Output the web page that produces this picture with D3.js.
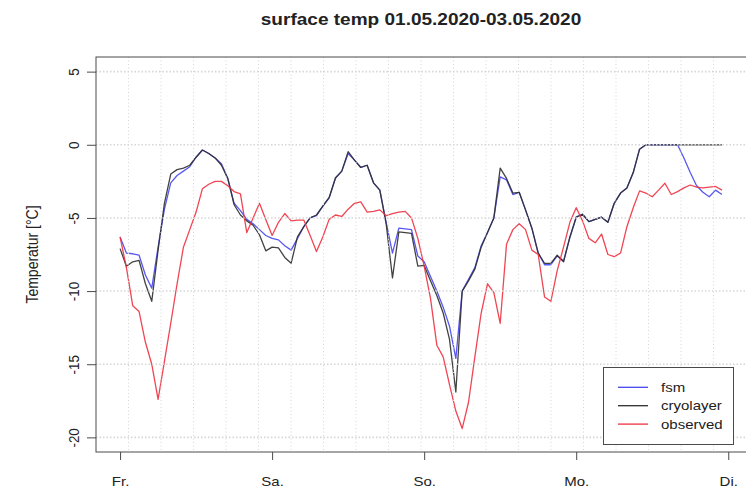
<!DOCTYPE html>
<html>
<head>
<meta charset="utf-8">
<script src="https://cdn.jsdelivr.net/npm/d3@7"></script>
<style>
  body { margin: 0; background: #fff; }
  text { font-family: "Liberation Sans", Arial, sans-serif; fill: #222; }
</style>
</head>
<body>
<svg id="chart" width="746" height="490"></svg>
<script>
// ---- data: hourly surface temperatures from Fri 01.05.2020 00:00 ----
const title = "surface temp 01.05.2020-03.05.2020";
const yLabel = "Temperatur [°C]";
const dayLabels = ["Fr.", "Sa.", "So.", "Mo.", "Di."];
const dayHours = [0, 24, 48, 72, 96];
const yTicks = [5, 0, -5, -10, -15, -20];
const seriesNames = ["fsm", "cryolayer", "observed"];
const seriesColors = ["#4646ee", "#2e2e2e", "#ee3140"];

const fsm = [
  -6.3, -7.4, -7.45, -7.55, -8.9, -9.8, -7.0, -4.4, -2.6, -2.1, -1.8, -1.5,
  -0.85, -0.36, -0.6, -0.9, -1.3, -2.3, -4.0, -4.5, -5.1, -5.4, -5.8, -6.2,
  -6.4, -6.5, -6.9, -7.2, -6.4, -5.6, -5.0, -4.85, -4.2, -3.65, -2.3, -1.8,
  -0.6, -1.05, -1.55, -1.4, -2.6, -3.1, -5.3, -7.4, -5.7, -5.75, -5.8, -7.6,
  -8.0, -9.0, -10.0, -11.1, -12.4, -14.6, -10.0, -9.2, -8.4, -6.9, -6.0, -5.0,
  -2.2, -2.4, -3.4, -3.25, -4.45, -5.7, -7.4, -8.2, -8.2, -7.6, -7.95, -6.35,
  -4.95, -4.75, -5.25, -5.1, -4.95, -5.3, -4.0, -3.3, -2.95, -1.9, -0.3, 0,
  0, 0, 0, 0, 0, -0.9, -1.9, -2.8, -3.25, -3.55, -3.1, -3.4
];

const cryolayer = [
  -7.1, -8.3, -8.0, -7.9, -9.5, -10.7, -7.2, -4.0, -2.0, -1.7, -1.6, -1.4,
  -0.85, -0.36, -0.6, -0.9, -1.4, -2.3, -4.1, -4.8, -5.2, -5.5, -6.15, -7.25,
  -7.0, -7.05, -7.7, -8.1, -6.3, -5.6, -5.0, -4.8, -4.2, -3.6, -2.25, -1.8,
  -0.47, -1.05, -1.55, -1.4, -2.6, -3.1, -5.4, -9.1, -5.95, -6.0, -6.05, -8.3,
  -8.25, -9.3, -10.3, -11.5, -13.3, -16.9, -10.0, -9.3, -8.5, -7.0, -6.0, -5.0,
  -1.6, -2.3, -3.3, -3.25, -4.45, -5.7, -7.4, -8.1, -8.1, -7.55, -8.0, -6.3,
  -4.95, -4.75, -5.25, -5.1, -4.95, -5.3, -4.0, -3.3, -2.95, -1.9, -0.3, 0,
  0, 0, 0, 0, 0, 0, 0, 0, 0, 0, 0, 0
];

const observed = [
  -6.3, -8.4, -11.0, -11.4, -13.5, -15.0, -17.4, -14.8, -12.2, -9.5, -7.0, -5.8,
  -4.6, -3.0, -2.7, -2.5, -2.5, -2.8, -3.2, -3.35, -6.0, -5.0, -4.0, -5.1,
  -6.2, -5.3, -4.7, -5.2, -5.15, -5.15, -6.2, -7.3, -6.3, -5.1, -4.8, -4.9,
  -4.4, -4.0, -3.9, -4.6, -4.55, -4.45, -4.85, -4.7, -4.6, -4.55, -5.0, -6.4,
  -8.3, -10.5, -13.7, -14.5, -16.4, -18.2, -19.4, -17.6, -14.5, -11.5, -9.5, -10.1,
  -12.2, -6.8, -5.8, -5.4, -5.8, -7.2, -7.5, -10.4, -10.7, -8.6, -7.0, -5.3,
  -4.3, -5.2, -6.4, -6.7, -6.1, -7.5, -7.65, -7.4, -5.6, -4.3, -3.15, -3.3,
  -3.55, -3.1, -2.63, -3.4, -3.2, -2.95, -2.75, -2.9, -2.95, -2.9, -2.85, -3.1
];

const series = [fsm, cryolayer, observed];

// ---- layout ----
const svg = d3.select("#chart");
const plot = { left: 96, right: 746, top: 57, bottom: 452 };
const sx = 1.12;            // horizontal text stretch of the output device
const fontSize = 13.4;

// x: hour index, padded 4% on each side like base graphics
const n = fsm.length;
const pad = 0.04 * (n - 1);
const x = d3.scaleLinear().domain([0 - pad, n - 1 + pad]).range([plot.left, plot.right]);
const y = d3.scaleLinear().domain([-21, 6]).range([plot.bottom, plot.top]);

// ---- series lines ----
const line = d3.line().x((d, i) => x(i)).y(d => y(d));
series.forEach((s, k) => {
  svg.append("path")
    .datum(s)
    .attr("fill", "none")
    .attr("stroke", seriesColors[k])
    .attr("stroke-width", 1.3)
    .attr("stroke-linejoin", "round")
    .attr("opacity", 0.9)
    .attr("d", line);
});

// ---- dotted grid drawn over the lines ----
const grid = svg.append("g")
  .attr("stroke", "#d6d6d6")
  .attr("stroke-dasharray", "1,2.5");
const cell = (plot.right - plot.left) / 20;
d3.range(1, 20).forEach(k => {
  const gx = plot.left + k * cell;
  grid.append("line").attr("x1", gx).attr("x2", gx)
    .attr("y1", plot.top).attr("y2", plot.bottom)
    .attr("stroke-width", 1);
});
yTicks.forEach(v => {
  grid.append("line").attr("x1", plot.left).attr("x2", plot.right)
    .attr("y1", y(v)).attr("y2", y(v))
    .attr("stroke-width", 1.6)
    .attr("stroke-dasharray", "1.5,2");
});

// ---- frame ----
svg.append("rect")
  .attr("x", plot.left).attr("y", plot.top)
  .attr("width", plot.right - plot.left + 2).attr("height", plot.bottom - plot.top)
  .attr("fill", "none").attr("stroke", "#4a4a4a").attr("stroke-width", 1);

// ---- axes ----
const xAxis = svg.append("g")
  .attr("transform", `translate(0,${plot.bottom})`)
  .call(d3.axisBottom(x).tickValues(dayHours).tickFormat((d, i) => dayLabels[i]).tickSize(8));
xAxis.select(".domain").remove();
xAxis.selectAll(".tick line").attr("stroke", "#4a4a4a");
xAxis.selectAll(".tick text")
  .attr("y", 34).attr("dy", null)
  .attr("transform", `scale(${sx},1)`)
  .style("font-size", fontSize + "px").style("fill", "#222");

const yAxis = svg.append("g")
  .attr("transform", `translate(${plot.left},0)`)
  .call(d3.axisLeft(y).tickValues(yTicks).tickFormat(d => String(d)).tickSize(9));
yAxis.select(".domain").remove();
yAxis.selectAll(".tick line").attr("stroke", "#4a4a4a");
yAxis.selectAll(".tick text")
  .attr("x", null).attr("dy", null)
  .attr("text-anchor", "middle")
  .attr("transform", `translate(-17,0) scale(${sx},1) rotate(-90)`)
  .style("font-size", fontSize + "px").style("fill", "#222");

// ---- titles ----
svg.append("text")
  .attr("transform", `translate(${(plot.left + plot.right) / 2},25) scale(${sx},1)`)
  .attr("text-anchor", "middle")
  .style("font-size", "17px").style("font-weight", "bold")
  .text(title);

svg.append("text")
  .attr("transform", `translate(38,${(plot.top + plot.bottom) / 2}) scale(${sx},1) rotate(-90)`)
  .attr("text-anchor", "middle")
  .style("font-size", "14px")
  .text(yLabel);

// ---- legend ----
const legend = svg.append("g");
legend.append("rect")
  .attr("x", 603.5).attr("y", 367.5).attr("width", 130).attr("height", 77)
  .attr("fill", "#fff").attr("stroke", "#4a4a4a").attr("stroke-width", 1);
seriesNames.forEach((name, k) => {
  const ly = 387.3 + k * 18.4;
  legend.append("line")
    .attr("x1", 618).attr("x2", 648).attr("y1", ly).attr("y2", ly)
    .attr("stroke", seriesColors[k]).attr("stroke-width", 1.3);
  legend.append("text")
    .attr("transform", `translate(661,${ly + 4.6}) scale(${sx},1)`)
    .style("font-size", fontSize + "px")
    .text(name);
});
</script>
</body>
</html>
